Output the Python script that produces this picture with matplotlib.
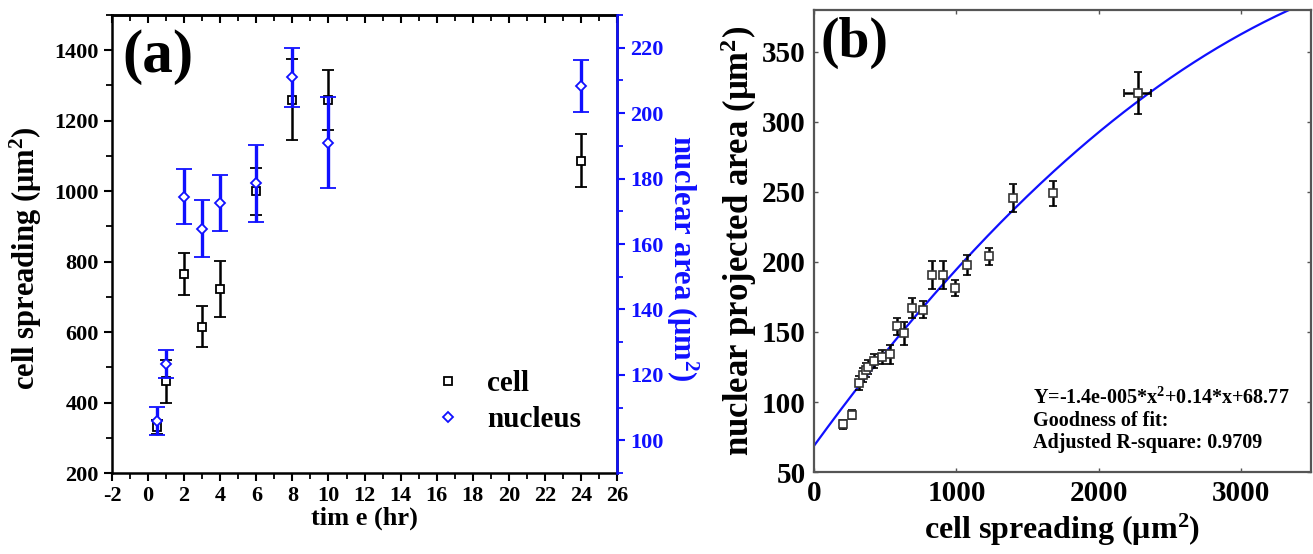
import numpy as np
import matplotlib
matplotlib.use('Agg')
import matplotlib.pyplot as plt
from matplotlib.ticker import MultipleLocator
from matplotlib.lines import Line2D

plt.rcParams['font.family'] = ['Liberation Serif', 'DejaVu Serif']
plt.rcParams['font.weight'] = 'bold'
plt.rcParams['axes.unicode_minus'] = False
plt.rcParams['mathtext.fontset'] = 'custom'
plt.rcParams['mathtext.rm'] = 'Liberation Serif:bold'
plt.rcParams['mathtext.it'] = 'Liberation Serif:bold'
plt.rcParams['mathtext.bf'] = 'Liberation Serif:bold'

BLUE = '#1010ff'

# (a) cell spreading and nuclear area vs time
time_hr = [0.5, 1, 2, 3, 4, 6, 8, 10, 24]
cell_area = [330, 460, 765, 615, 722, 1000, 1260, 1258, 1087]
cell_err = [20, 60, 60, 58, 80, 67, 115, 85, 75]
nuc_area = [106, 123.3, 174.5, 164.7, 172.6, 178.5, 211, 191, 208.3]
nuc_err = [4.3, 4.3, 8.5, 8.8, 8.5, 11.7, 9, 14, 8]

# (b) nuclear projected area vs cell spreading
spread = [204, 265, 318, 347, 367, 381, 421, 475, 535, 582, 632, 688, 764,
          828, 905, 990, 1073, 1228, 1397, 1677, 2274]
proj = [84, 91, 113.6, 119, 123, 125, 129, 132, 134, 154, 149, 167, 166,
        191, 190.6, 181.4, 198, 204, 246, 249, 321]
proj_err = [3, 3, 5, 5, 5, 5, 5, 5, 7, 6, 8, 7, 6, 10, 10, 6, 7, 6, 10, 9, 15]
spread_err = [0] * 20 + [95]
fit_coef = [-1.4e-5, 0.14, 68.77]

fig = plt.figure(figsize=(13.13, 5.54), dpi=100)

# ---- panel (a)
ax = fig.add_axes([0.0853, 0.146, 0.3847, 0.827])
ax.errorbar(time_hr, cell_area, yerr=cell_err, fmt='s', color='black', mfc='white',
            mec='black', ms=6, mew=1.3, elinewidth=1.8, capsize=4.5, capthick=1.8,
            zorder=3)
ax.set_xlim(-2, 26)
ax.set_ylim(200, 1500)
ax.xaxis.set_major_locator(MultipleLocator(2))
ax.xaxis.set_minor_locator(MultipleLocator(1))
ax.set_yticks([200, 400, 600, 800, 1000, 1200, 1400])
ax.yaxis.set_minor_locator(MultipleLocator(100))
ax.tick_params(axis='both', which='major', labelsize=16, length=6, width=1.5, direction='out')
ax.tick_params(axis='both', which='minor', length=4, width=1.3, direction='out')
for s in ax.spines.values():
    s.set_linewidth(1.8)

# top axis carries inward ticks only
top = ax.secondary_xaxis('top')
top.xaxis.set_major_locator(MultipleLocator(2))
top.xaxis.set_minor_locator(MultipleLocator(1))
top.tick_params(which='major', direction='in', length=6, width=1.5, labeltop=False)
top.tick_params(which='minor', direction='in', length=4, width=1.3)
top.spines['top'].set_linewidth(1.8)

ax.set_xlabel('tim e (hr)', fontsize=19, fontweight='bold', labelpad=0)
ax.set_ylabel('cell spreading (μm$^2$)', fontsize=22, fontweight='bold', labelpad=0)
ax.yaxis.set_label_coords(-0.135, 0.47)
ax.text(0.02, 0.97, '(a)', transform=ax.transAxes, fontsize=44, fontweight='bold',
        va='top', ha='left')

ax2 = ax.twinx()
ax2.errorbar(time_hr, nuc_area, yerr=nuc_err, fmt='D', color=BLUE, mfc='white',
             mec=BLUE, ms=5.5, mew=1.3, elinewidth=2.4, capsize=6, capthick=2.4,
             zorder=3)
ax2.set_ylim(90, 230)
ax2.set_yticks([100, 120, 140, 160, 180, 200, 220])
ax2.yaxis.set_minor_locator(MultipleLocator(10))
ax2.tick_params(axis='y', which='major', colors=BLUE, labelsize=16, length=6, width=1.5,
                direction='out')
ax2.tick_params(axis='y', which='minor', colors=BLUE, length=4, width=1.3, direction='out')
ax2.spines['right'].set_color(BLUE)
ax2.spines['right'].set_linewidth(1.8)
for side in ('left', 'top', 'bottom'):
    ax2.spines[side].set_visible(False)
ax2.set_ylabel('nuclear area (μm$^2$)', fontsize=22, fontweight='bold', color=BLUE,
               rotation=270, labelpad=0)
ax2.yaxis.set_label_coords(1.165, 0.47)

handles = [Line2D([], [], ls='none', marker='s', ms=6, mfc='white', mec='black', mew=1.3),
           Line2D([], [], ls='none', marker='D', ms=5.5, mfc='white', mec=BLUE, mew=1.3)]
ax2.legend(handles, ['cell', 'nucleus'], loc='lower left', bbox_to_anchor=(0.57, 0.03),
           frameon=False, fontsize=21, handletextpad=0.6, labelspacing=0.3,
           handlelength=1.5)

# ---- panel (b)
bx = fig.add_axes([0.620, 0.148, 0.3785, 0.834])
xs = np.linspace(0, 3500, 300)
bx.plot(xs, np.polyval(fit_coef, xs), color=BLUE, lw=1.6, zorder=2)
bx.errorbar(spread, proj, yerr=proj_err, xerr=spread_err, fmt='s', color='black',
            mfc='white', mec='#333333', ms=6, mew=1.2, elinewidth=1.8, capsize=3,
            capthick=1.5, zorder=3)
bx.set_xlim(0, 3490)
bx.set_ylim(50, 380)
bx.set_xticks([0, 1000, 2000, 3000])
bx.set_yticks([50, 100, 150, 200, 250, 300, 350])
bx.tick_params(axis='both', which='major', labelsize=21, length=3, width=1.0,
               direction='in', top=True, right=True, color='#555555', pad=6)
for s in bx.spines.values():
    s.set_linewidth(1.6)
    s.set_color('#555555')
bx.set_xlabel('cell spreading (μm$^2$)', fontsize=23, fontweight='bold', labelpad=3)
bx.set_ylabel('nuclear projected area (μm$^2$)', fontsize=25, fontweight='bold', labelpad=2)
bx.text(0.012, 0.985, '(b)', transform=bx.transAxes, fontsize=40, fontweight='bold',
        va='top', ha='left')
bx.text(0.44, 0.183, 'Y=-1.4e-005*x$^2$+0.14*x+68.77\nGoodness of fit:\nAdjusted R-square: 0.9709',
        transform=bx.transAxes, fontsize=14.5, fontweight='bold', va='top', ha='left',
        linespacing=1.15)

fig.savefig('out.png', dpi=100)
